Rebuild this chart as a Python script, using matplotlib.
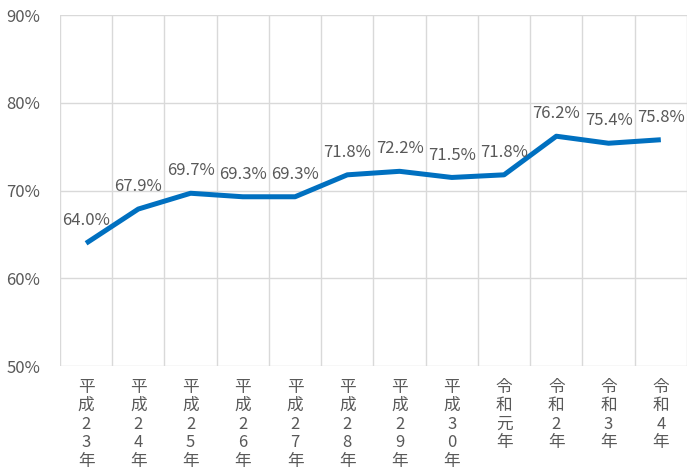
import numpy as np
import matplotlib
matplotlib.use("Agg")
from matplotlib import pyplot as plt

plt.rcParams['font.family'] = ['Noto Sans CJK JP', 'DejaVu Sans']

# years and rates
years = ["平成23年", "平成24年", "平成25年", "平成26年", "平成27年", "平成28年",
         "平成29年", "平成30年", "令和元年", "令和2年", "令和3年", "令和4年"]
rates = [64.0, 67.9, 69.7, 69.3, 69.3, 71.8, 72.2, 71.5, 71.8, 76.2, 75.4, 75.8]
y_ticks = [50, 60, 70, 80, 90]

grid_color = "#d9d9d9"
text_color = "#595959"
line_color = "#0070c0"

fig = plt.figure(figsize=(6.89, 4.73), dpi=100)
ax = fig.add_axes([0.087, 0.226, 0.91, 0.742])

x = np.arange(len(years))
ax.plot(x, rates, color=line_color, linewidth=3.6, solid_capstyle="butt", zorder=3)

# data labels above each point
for xi, r in zip(x, rates):
    ax.annotate(f"{r:.1f}%", (xi, r), xytext=(0, 10), textcoords="offset points",
                ha="center", va="bottom", fontsize=12, color=text_color)

ax.set_xlim(-0.5, len(years) - 0.5)
ax.set_ylim(50, 90)
ax.set_yticks(y_ticks)
ax.set_yticklabels([f"{v}%" for v in y_ticks], fontsize=12, color=text_color)

# vertical gridlines at category boundaries
ax.set_xticks(np.arange(len(years) + 1) - 0.5, minor=True)
ax.set_xticks(x)
ax.set_xticklabels(["\n".join(y) for y in years], fontsize=12, color=text_color,
                   linespacing=1.12, va="top")
ax.tick_params(axis="x", which="both", length=0, pad=9)
ax.tick_params(axis="y", length=0, pad=14)

ax.grid(axis="y", which="major", color=grid_color, linewidth=1)
ax.grid(axis="x", which="minor", color=grid_color, linewidth=1)
ax.grid(axis="x", which="major", visible=False)
for s in ax.spines.values():
    s.set_visible(False)

fig.savefig("out.png", dpi=100)
